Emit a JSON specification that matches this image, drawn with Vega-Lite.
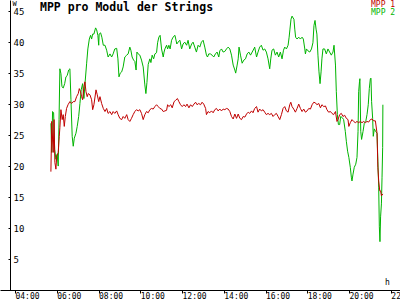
{
"$schema": "https://vega.github.io/schema/vega-lite/v6.json",
"width": 400, "height": 290,
"autosize": "none", "padding": {"left": 0, "top": 0, "right": 0, "bottom": 10},
"background": "white",
"config": {"view": {"stroke": null}},
"title": {"text": "MPP pro Modul der Strings", "anchor": "start", "frame": "group", "font": "DejaVu Sans Mono", "fontSize": 11.5, "fontWeight": "bold", "color": "black", "dx": 40, "offset": -11, "dy": 12, "baseline": "alphabetic"},
"data": {"values": [
{"s":"MPP 1","t":5.72,"v":19.1},{"s":"MPP 1","t":5.76,"v":27.2},{"s":"MPP 1","t":5.83,"v":22.2},{"s":"MPP 1","t":5.87,"v":27.5},{"s":"MPP 1","t":5.91,"v":20.6},{"s":"MPP 1","t":5.96,"v":19.5},{"s":"MPP 1","t":6.00,"v":21.6},{"s":"MPP 1","t":6.07,"v":22.2},{"s":"MPP 1","t":6.12,"v":24.8},{"s":"MPP 1","t":6.15,"v":26.2},{"s":"MPP 1","t":6.20,"v":29.1},{"s":"MPP 1","t":6.26,"v":27.5},{"s":"MPP 1","t":6.31,"v":28.3},{"s":"MPP 1","t":6.36,"v":26.4},{"s":"MPP 1","t":6.41,"v":28.0},{"s":"MPP 1","t":6.47,"v":29.3},{"s":"MPP 1","t":6.54,"v":29.9},{"s":"MPP 1","t":6.63,"v":30.4},{"s":"MPP 1","t":6.71,"v":30.1},{"s":"MPP 1","t":6.79,"v":30.4},{"s":"MPP 1","t":6.87,"v":30.4},{"s":"MPP 1","t":6.95,"v":31.2},{"s":"MPP 1","t":7.03,"v":31.7},{"s":"MPP 1","t":7.08,"v":32.5},{"s":"MPP 1","t":7.14,"v":32.0},{"s":"MPP 1","t":7.19,"v":31.2},{"s":"MPP 1","t":7.24,"v":30.7},{"s":"MPP 1","t":7.30,"v":32.8},{"s":"MPP 1","t":7.35,"v":33.6},{"s":"MPP 1","t":7.40,"v":32.0},{"s":"MPP 1","t":7.46,"v":31.2},{"s":"MPP 1","t":7.51,"v":31.7},{"s":"MPP 1","t":7.59,"v":31.5},{"s":"MPP 1","t":7.67,"v":30.7},{"s":"MPP 1","t":7.72,"v":29.1},{"s":"MPP 1","t":7.78,"v":29.9},{"s":"MPP 1","t":7.88,"v":32.3},{"s":"MPP 1","t":7.94,"v":31.5},{"s":"MPP 1","t":8.01,"v":30.4},{"s":"MPP 1","t":8.07,"v":31.2},{"s":"MPP 1","t":8.15,"v":30.1},{"s":"MPP 1","t":8.23,"v":29.3},
{"s":"MPP 1","t":8.31,"v":28.8},{"s":"MPP 1","t":8.39,"v":29.3},{"s":"MPP 1","t":8.46,"v":28.5},{"s":"MPP 1","t":8.55,"v":28.8},{"s":"MPP 1","t":8.63,"v":28.3},{"s":"MPP 1","t":8.70,"v":28.8},{"s":"MPP 1","t":8.78,"v":28.5},{"s":"MPP 1","t":8.87,"v":28.9},{"s":"MPP 1","t":8.94,"v":28.3},{"s":"MPP 1","t":9.02,"v":27.7},{"s":"MPP 1","t":9.11,"v":27.5},{"s":"MPP 1","t":9.18,"v":28.0},{"s":"MPP 1","t":9.26,"v":27.7},{"s":"MPP 1","t":9.35,"v":28.3},{"s":"MPP 1","t":9.42,"v":27.5},{"s":"MPP 1","t":9.50,"v":27.2},{"s":"MPP 1","t":9.58,"v":27.7},{"s":"MPP 1","t":9.66,"v":28.3},{"s":"MPP 1","t":9.74,"v":28.8},{"s":"MPP 1","t":9.82,"v":29.1},{"s":"MPP 1","t":9.90,"v":28.9},{"s":"MPP 1","t":9.98,"v":29.1},{"s":"MPP 1","t":10.06,"v":28.5},{"s":"MPP 1","t":10.14,"v":27.5},{"s":"MPP 1","t":10.22,"v":28.3},{"s":"MPP 1","t":10.30,"v":28.8},{"s":"MPP 1","t":10.38,"v":28.6},{"s":"MPP 1","t":10.46,"v":29.1},{"s":"MPP 1","t":10.54,"v":29.3},{"s":"MPP 1","t":10.62,"v":29.2},{"s":"MPP 1","t":10.70,"v":29.6},{"s":"MPP 1","t":10.78,"v":29.9},{"s":"MPP 1","t":10.86,"v":29.6},{"s":"MPP 1","t":10.94,"v":29.3},{"s":"MPP 1","t":11.02,"v":29.2},{"s":"MPP 1","t":11.10,"v":28.8},{"s":"MPP 1","t":11.18,"v":28.9},
{"s":"MPP 1","t":11.26,"v":29.0},{"s":"MPP 1","t":11.31,"v":29.9},{"s":"MPP 1","t":11.37,"v":29.6},{"s":"MPP 1","t":11.46,"v":29.9},{"s":"MPP 1","t":11.53,"v":29.4},{"s":"MPP 1","t":11.62,"v":30.4},{"s":"MPP 1","t":11.69,"v":30.6},{"s":"MPP 1","t":11.78,"v":30.9},{"s":"MPP 1","t":11.85,"v":30.4},{"s":"MPP 1","t":11.93,"v":29.9},{"s":"MPP 1","t":12.01,"v":29.6},{"s":"MPP 1","t":12.09,"v":29.9},{"s":"MPP 1","t":12.17,"v":29.6},{"s":"MPP 1","t":12.24,"v":30.0},{"s":"MPP 1","t":12.33,"v":29.4},{"s":"MPP 1","t":12.41,"v":29.9},{"s":"MPP 1","t":12.49,"v":29.6},{"s":"MPP 1","t":12.57,"v":30.0},{"s":"MPP 1","t":12.65,"v":30.3},{"s":"MPP 1","t":12.72,"v":29.9},{"s":"MPP 1","t":12.80,"v":30.1},{"s":"MPP 1","t":12.89,"v":29.9},{"s":"MPP 1","t":12.96,"v":30.3},{"s":"MPP 1","t":13.04,"v":30.0},{"s":"MPP 1","t":13.13,"v":29.3},{"s":"MPP 1","t":13.17,"v":28.3},{"s":"MPP 1","t":13.25,"v":28.8},{"s":"MPP 1","t":13.33,"v":28.6},{"s":"MPP 1","t":13.41,"v":28.9},{"s":"MPP 1","t":13.49,"v":28.6},{"s":"MPP 1","t":13.57,"v":29.1},{"s":"MPP 1","t":13.65,"v":29.3},{"s":"MPP 1","t":13.73,"v":28.9},{"s":"MPP 1","t":13.81,"v":29.2},{"s":"MPP 1","t":13.89,"v":28.9},{"s":"MPP 1","t":13.97,"v":29.2},{"s":"MPP 1","t":14.05,"v":29.1},
{"s":"MPP 1","t":14.13,"v":29.3},{"s":"MPP 1","t":14.21,"v":29.2},{"s":"MPP 1","t":14.29,"v":28.8},{"s":"MPP 1","t":14.37,"v":28.0},{"s":"MPP 1","t":14.45,"v":27.6},{"s":"MPP 1","t":14.53,"v":28.4},{"s":"MPP 1","t":14.61,"v":27.7},{"s":"MPP 1","t":14.69,"v":28.4},{"s":"MPP 1","t":14.77,"v":27.7},{"s":"MPP 1","t":14.85,"v":27.5},{"s":"MPP 1","t":14.93,"v":28.0},{"s":"MPP 1","t":15.01,"v":27.9},{"s":"MPP 1","t":15.09,"v":28.4},{"s":"MPP 1","t":15.17,"v":28.7},{"s":"MPP 1","t":15.24,"v":28.5},{"s":"MPP 1","t":15.33,"v":28.9},{"s":"MPP 1","t":15.40,"v":28.6},{"s":"MPP 1","t":15.48,"v":29.3},{"s":"MPP 1","t":15.57,"v":29.6},{"s":"MPP 1","t":15.64,"v":28.7},{"s":"MPP 1","t":15.72,"v":29.2},{"s":"MPP 1","t":15.80,"v":28.9},{"s":"MPP 1","t":15.88,"v":29.1},{"s":"MPP 1","t":15.96,"v":28.7},{"s":"MPP 1","t":16.04,"v":28.3},{"s":"MPP 1","t":16.12,"v":28.5},{"s":"MPP 1","t":16.20,"v":28.3},{"s":"MPP 1","t":16.28,"v":28.5},{"s":"MPP 1","t":16.36,"v":28.0},{"s":"MPP 1","t":16.44,"v":28.3},{"s":"MPP 1","t":16.52,"v":28.5},{"s":"MPP 1","t":16.60,"v":28.0},{"s":"MPP 1","t":16.68,"v":27.5},{"s":"MPP 1","t":16.76,"v":28.3},{"s":"MPP 1","t":16.84,"v":29.3},{"s":"MPP 1","t":16.92,"v":29.6},
{"s":"MPP 1","t":17.00,"v":28.9},{"s":"MPP 1","t":17.08,"v":28.7},{"s":"MPP 1","t":17.16,"v":29.9},{"s":"MPP 1","t":17.21,"v":30.3},{"s":"MPP 1","t":17.27,"v":29.6},{"s":"MPP 1","t":17.35,"v":29.2},{"s":"MPP 1","t":17.43,"v":28.7},{"s":"MPP 1","t":17.51,"v":29.3},{"s":"MPP 1","t":17.59,"v":30.0},{"s":"MPP 1","t":17.67,"v":29.3},{"s":"MPP 1","t":17.75,"v":28.8},{"s":"MPP 1","t":17.83,"v":29.2},{"s":"MPP 1","t":17.91,"v":28.7},{"s":"MPP 1","t":17.99,"v":28.9},{"s":"MPP 1","t":18.07,"v":29.3},{"s":"MPP 1","t":18.15,"v":29.2},{"s":"MPP 1","t":18.23,"v":29.9},{"s":"MPP 1","t":18.31,"v":30.3},{"s":"MPP 1","t":18.39,"v":30.2},{"s":"MPP 1","t":18.46,"v":29.9},{"s":"MPP 1","t":18.55,"v":30.1},{"s":"MPP 1","t":18.63,"v":29.4},{"s":"MPP 1","t":18.70,"v":29.9},{"s":"MPP 1","t":18.79,"v":29.6},{"s":"MPP 1","t":18.87,"v":29.7},{"s":"MPP 1","t":18.94,"v":29.1},{"s":"MPP 1","t":19.02,"v":28.7},{"s":"MPP 1","t":19.11,"v":28.8},{"s":"MPP 1","t":19.18,"v":28.5},{"s":"MPP 1","t":19.26,"v":28.3},{"s":"MPP 1","t":19.35,"v":28.8},{"s":"MPP 1","t":19.42,"v":27.2},{"s":"MPP 1","t":19.47,"v":27.5},{"s":"MPP 1","t":19.55,"v":28.3},
{"s":"MPP 1","t":19.63,"v":28.5},{"s":"MPP 1","t":19.71,"v":28.0},{"s":"MPP 1","t":19.79,"v":28.2},{"s":"MPP 1","t":19.87,"v":27.7},{"s":"MPP 1","t":19.95,"v":27.5},{"s":"MPP 1","t":19.99,"v":26.4},{"s":"MPP 1","t":20.06,"v":27.0},{"s":"MPP 1","t":20.14,"v":27.5},{"s":"MPP 1","t":20.22,"v":27.2},{"s":"MPP 1","t":20.30,"v":27.0},{"s":"MPP 1","t":20.38,"v":27.2},{"s":"MPP 1","t":20.46,"v":27.0},{"s":"MPP 1","t":20.54,"v":27.2},{"s":"MPP 1","t":20.62,"v":27.0},{"s":"MPP 1","t":20.70,"v":27.2},{"s":"MPP 1","t":20.78,"v":27.0},{"s":"MPP 1","t":20.86,"v":27.2},{"s":"MPP 1","t":20.94,"v":27.1},{"s":"MPP 1","t":21.02,"v":27.5},{"s":"MPP 1","t":21.10,"v":27.6},{"s":"MPP 1","t":21.18,"v":27.3},{"s":"MPP 1","t":21.26,"v":27.3},{"s":"MPP 1","t":21.34,"v":25.3},{"s":"MPP 1","t":21.38,"v":19.8},{"s":"MPP 1","t":21.42,"v":17.6},{"s":"MPP 1","t":21.47,"v":16.0},{"s":"MPP 1","t":21.51,"v":16.0},{"s":"MPP 1","t":21.55,"v":15.2},{"s":"MPP 1","t":21.62,"v":15.5},
{"s":"MPP 2","t":5.72,"v":26.9},{"s":"MPP 2","t":5.76,"v":22.2},{"s":"MPP 2","t":5.80,"v":28.8},{"s":"MPP 2","t":5.85,"v":28.6},{"s":"MPP 2","t":5.90,"v":22.7},{"s":"MPP 2","t":5.96,"v":21.1},{"s":"MPP 2","t":6.02,"v":21.9},{"s":"MPP 2","t":6.07,"v":20.0},{"s":"MPP 2","t":6.11,"v":27.5},{"s":"MPP 2","t":6.15,"v":35.7},{"s":"MPP 2","t":6.20,"v":34.9},{"s":"MPP 2","t":6.25,"v":32.8},{"s":"MPP 2","t":6.31,"v":32.6},{"s":"MPP 2","t":6.38,"v":33.3},{"s":"MPP 2","t":6.44,"v":34.4},{"s":"MPP 2","t":6.50,"v":34.6},{"s":"MPP 2","t":6.57,"v":35.5},{"s":"MPP 2","t":6.63,"v":35.7},{"s":"MPP 2","t":6.68,"v":30.7},{"s":"MPP 2","t":6.74,"v":24.8},{"s":"MPP 2","t":6.79,"v":23.2},{"s":"MPP 2","t":6.84,"v":24.5},{"s":"MPP 2","t":6.92,"v":25.3},{"s":"MPP 2","t":6.98,"v":26.4},{"s":"MPP 2","t":7.05,"v":28.0},{"s":"MPP 2","t":7.11,"v":30.1},{"s":"MPP 2","t":7.17,"v":32.3},{"s":"MPP 2","t":7.24,"v":33.3},{"s":"MPP 2","t":7.30,"v":30.9},{"s":"MPP 2","t":7.36,"v":33.6},{"s":"MPP 2","t":7.43,"v":36.5},{"s":"MPP 2","t":7.49,"v":38.9},{"s":"MPP 2","t":7.56,"v":40.5},{"s":"MPP 2","t":7.62,"v":41.1},{"s":"MPP 2","t":7.67,"v":40.5},{"s":"MPP 2","t":7.72,"v":41.3},{"s":"MPP 2","t":7.78,"v":41.3},{"s":"MPP 2","t":7.86,"v":42.3},{"s":"MPP 2","t":7.91,"v":42.0},{"s":"MPP 2","t":7.97,"v":41.1},{"s":"MPP 2","t":8.01,"v":39.5},{"s":"MPP 2","t":8.03,"v":41.3},{"s":"MPP 2","t":8.10,"v":41.5},{"s":"MPP 2","t":8.16,"v":40.8},{"s":"MPP 2","t":8.23,"v":39.5},
{"s":"MPP 2","t":8.31,"v":39.5},{"s":"MPP 2","t":8.39,"v":38.7},{"s":"MPP 2","t":8.46,"v":37.6},{"s":"MPP 2","t":8.55,"v":38.1},{"s":"MPP 2","t":8.63,"v":37.6},{"s":"MPP 2","t":8.70,"v":38.1},{"s":"MPP 2","t":8.78,"v":38.9},{"s":"MPP 2","t":8.87,"v":39.0},{"s":"MPP 2","t":8.93,"v":37.3},{"s":"MPP 2","t":8.98,"v":34.4},{"s":"MPP 2","t":9.04,"v":35.0},{"s":"MPP 2","t":9.11,"v":35.2},{"s":"MPP 2","t":9.18,"v":36.0},{"s":"MPP 2","t":9.26,"v":37.6},{"s":"MPP 2","t":9.35,"v":37.9},{"s":"MPP 2","t":9.42,"v":38.1},{"s":"MPP 2","t":9.50,"v":39.2},{"s":"MPP 2","t":9.55,"v":38.7},{"s":"MPP 2","t":9.61,"v":37.6},{"s":"MPP 2","t":9.68,"v":37.1},{"s":"MPP 2","t":9.74,"v":36.9},{"s":"MPP 2","t":9.80,"v":35.5},{"s":"MPP 2","t":9.84,"v":38.4},{"s":"MPP 2","t":9.90,"v":38.1},{"s":"MPP 2","t":9.98,"v":37.9},{"s":"MPP 2","t":10.06,"v":37.1},{"s":"MPP 2","t":10.14,"v":36.0},{"s":"MPP 2","t":10.22,"v":33.1},{"s":"MPP 2","t":10.27,"v":31.7},{"s":"MPP 2","t":10.32,"v":33.5},{"s":"MPP 2","t":10.38,"v":36.4},{"s":"MPP 2","t":10.46,"v":37.3},{"s":"MPP 2","t":10.51,"v":36.7},{"s":"MPP 2","t":10.57,"v":37.9},{"s":"MPP 2","t":10.64,"v":37.3},{"s":"MPP 2","t":10.70,"v":38.1},{"s":"MPP 2","t":10.78,"v":38.3},{"s":"MPP 2","t":10.83,"v":39.9},{"s":"MPP 2","t":10.89,"v":40.8},{"s":"MPP 2","t":10.95,"v":41.1},{"s":"MPP 2","t":11.02,"v":38.9},{"s":"MPP 2","t":11.10,"v":37.6},{"s":"MPP 2","t":11.14,"v":38.4},{"s":"MPP 2","t":11.18,"v":38.9},
{"s":"MPP 2","t":11.26,"v":39.5},{"s":"MPP 2","t":11.31,"v":38.9},{"s":"MPP 2","t":11.37,"v":39.5},{"s":"MPP 2","t":11.43,"v":38.9},{"s":"MPP 2","t":11.50,"v":40.3},{"s":"MPP 2","t":11.57,"v":40.8},{"s":"MPP 2","t":11.66,"v":41.1},{"s":"MPP 2","t":11.70,"v":40.5},{"s":"MPP 2","t":11.75,"v":39.7},{"s":"MPP 2","t":11.81,"v":40.0},{"s":"MPP 2","t":11.90,"v":40.3},{"s":"MPP 2","t":11.98,"v":38.9},{"s":"MPP 2","t":12.05,"v":39.7},{"s":"MPP 2","t":12.13,"v":40.0},{"s":"MPP 2","t":12.22,"v":39.5},{"s":"MPP 2","t":12.29,"v":40.3},{"s":"MPP 2","t":12.37,"v":38.9},{"s":"MPP 2","t":12.46,"v":39.7},{"s":"MPP 2","t":12.53,"v":40.0},{"s":"MPP 2","t":12.61,"v":39.2},{"s":"MPP 2","t":12.69,"v":38.4},{"s":"MPP 2","t":12.77,"v":39.5},{"s":"MPP 2","t":12.85,"v":39.2},{"s":"MPP 2","t":12.93,"v":40.0},{"s":"MPP 2","t":13.01,"v":40.3},{"s":"MPP 2","t":13.09,"v":39.2},{"s":"MPP 2","t":13.17,"v":37.9},{"s":"MPP 2","t":13.22,"v":37.6},{"s":"MPP 2","t":13.28,"v":38.1},{"s":"MPP 2","t":13.36,"v":38.1},{"s":"MPP 2","t":13.44,"v":37.9},{"s":"MPP 2","t":13.52,"v":37.6},{"s":"MPP 2","t":13.60,"v":38.1},{"s":"MPP 2","t":13.68,"v":38.4},{"s":"MPP 2","t":13.76,"v":37.6},{"s":"MPP 2","t":13.81,"v":38.6},{"s":"MPP 2","t":13.89,"v":38.9},{"s":"MPP 2","t":13.97,"v":38.4},{"s":"MPP 2","t":14.05,"v":38.5},
{"s":"MPP 2","t":14.13,"v":38.9},{"s":"MPP 2","t":14.21,"v":39.2},{"s":"MPP 2","t":14.29,"v":38.9},{"s":"MPP 2","t":14.37,"v":37.9},{"s":"MPP 2","t":14.45,"v":36.3},{"s":"MPP 2","t":14.53,"v":35.5},{"s":"MPP 2","t":14.57,"v":35.0},{"s":"MPP 2","t":14.64,"v":36.3},{"s":"MPP 2","t":14.69,"v":37.3},{"s":"MPP 2","t":14.73,"v":39.2},{"s":"MPP 2","t":14.80,"v":37.9},{"s":"MPP 2","t":14.88,"v":36.6},{"s":"MPP 2","t":14.96,"v":37.1},{"s":"MPP 2","t":15.04,"v":37.3},{"s":"MPP 2","t":15.12,"v":38.1},{"s":"MPP 2","t":15.20,"v":38.4},{"s":"MPP 2","t":15.28,"v":37.9},{"s":"MPP 2","t":15.36,"v":38.4},{"s":"MPP 2","t":15.44,"v":38.9},{"s":"MPP 2","t":15.48,"v":39.2},{"s":"MPP 2","t":15.57,"v":37.6},{"s":"MPP 2","t":15.64,"v":38.4},{"s":"MPP 2","t":15.72,"v":39.2},{"s":"MPP 2","t":15.80,"v":39.5},{"s":"MPP 2","t":15.88,"v":38.7},{"s":"MPP 2","t":15.96,"v":38.9},{"s":"MPP 2","t":16.04,"v":38.4},{"s":"MPP 2","t":16.12,"v":37.3},{"s":"MPP 2","t":16.20,"v":35.7},{"s":"MPP 2","t":16.25,"v":37.3},{"s":"MPP 2","t":16.31,"v":38.7},{"s":"MPP 2","t":16.39,"v":38.9},{"s":"MPP 2","t":16.47,"v":37.9},{"s":"MPP 2","t":16.55,"v":38.4},{"s":"MPP 2","t":16.63,"v":37.6},{"s":"MPP 2","t":16.71,"v":38.4},{"s":"MPP 2","t":16.79,"v":37.3},{"s":"MPP 2","t":16.86,"v":38.7},{"s":"MPP 2","t":16.92,"v":39.2},
{"s":"MPP 2","t":17.00,"v":38.9},{"s":"MPP 2","t":17.08,"v":39.5},{"s":"MPP 2","t":17.13,"v":40.8},{"s":"MPP 2","t":17.17,"v":42.1},{"s":"MPP 2","t":17.22,"v":43.7},{"s":"MPP 2","t":17.27,"v":44.2},{"s":"MPP 2","t":17.32,"v":43.9},{"s":"MPP 2","t":17.36,"v":43.7},{"s":"MPP 2","t":17.40,"v":42.1},{"s":"MPP 2","t":17.44,"v":40.8},{"s":"MPP 2","t":17.51,"v":40.5},{"s":"MPP 2","t":17.59,"v":40.8},{"s":"MPP 2","t":17.67,"v":40.5},{"s":"MPP 2","t":17.75,"v":40.8},{"s":"MPP 2","t":17.81,"v":40.5},{"s":"MPP 2","t":17.88,"v":38.9},{"s":"MPP 2","t":17.91,"v":38.1},{"s":"MPP 2","t":17.96,"v":38.9},{"s":"MPP 2","t":18.03,"v":38.6},{"s":"MPP 2","t":18.12,"v":38.4},{"s":"MPP 2","t":18.20,"v":38.9},{"s":"MPP 2","t":18.27,"v":39.9},{"s":"MPP 2","t":18.32,"v":42.7},{"s":"MPP 2","t":18.37,"v":43.5},{"s":"MPP 2","t":18.42,"v":42.1},{"s":"MPP 2","t":18.46,"v":41.3},{"s":"MPP 2","t":18.51,"v":37.9},{"s":"MPP 2","t":18.56,"v":35.2},{"s":"MPP 2","t":18.61,"v":33.3},{"s":"MPP 2","t":18.66,"v":35.2},{"s":"MPP 2","t":18.70,"v":37.3},{"s":"MPP 2","t":18.75,"v":38.9},{"s":"MPP 2","t":18.83,"v":38.9},{"s":"MPP 2","t":18.91,"v":38.1},{"s":"MPP 2","t":18.99,"v":38.9},{"s":"MPP 2","t":19.07,"v":38.4},{"s":"MPP 2","t":19.15,"v":37.9},{"s":"MPP 2","t":19.23,"v":38.4},{"s":"MPP 2","t":19.28,"v":39.5},{"s":"MPP 2","t":19.35,"v":36.3},{"s":"MPP 2","t":19.39,"v":32.0},{"s":"MPP 2","t":19.44,"v":28.3},{"s":"MPP 2","t":19.49,"v":26.7},{"s":"MPP 2","t":19.55,"v":26.7},
{"s":"MPP 2","t":19.60,"v":28.0},{"s":"MPP 2","t":19.68,"v":27.8},{"s":"MPP 2","t":19.74,"v":27.5},{"s":"MPP 2","t":19.82,"v":25.6},{"s":"MPP 2","t":19.87,"v":24.0},{"s":"MPP 2","t":19.93,"v":22.4},{"s":"MPP 2","t":19.99,"v":21.4},{"s":"MPP 2","t":20.06,"v":19.8},{"s":"MPP 2","t":20.11,"v":18.2},{"s":"MPP 2","t":20.14,"v":17.6},{"s":"MPP 2","t":20.19,"v":18.7},{"s":"MPP 2","t":20.25,"v":19.8},{"s":"MPP 2","t":20.32,"v":20.3},{"s":"MPP 2","t":20.38,"v":21.4},{"s":"MPP 2","t":20.43,"v":25.6},{"s":"MPP 2","t":20.46,"v":32.0},{"s":"MPP 2","t":20.50,"v":33.6},{"s":"MPP 2","t":20.52,"v":34.1},{"s":"MPP 2","t":20.56,"v":25.6},{"s":"MPP 2","t":20.60,"v":24.3},{"s":"MPP 2","t":20.67,"v":25.6},{"s":"MPP 2","t":20.73,"v":26.9},{"s":"MPP 2","t":20.80,"v":27.2},{"s":"MPP 2","t":20.86,"v":28.3},{"s":"MPP 2","t":20.92,"v":29.9},{"s":"MPP 2","t":20.97,"v":32.5},{"s":"MPP 2","t":21.02,"v":34.1},{"s":"MPP 2","t":21.05,"v":34.2},{"s":"MPP 2","t":21.08,"v":30.4},{"s":"MPP 2","t":21.13,"v":27.7},{"s":"MPP 2","t":21.16,"v":24.8},{"s":"MPP 2","t":21.21,"v":26.0},{"s":"MPP 2","t":21.27,"v":25.6},{"s":"MPP 2","t":21.34,"v":25.3},{"s":"MPP 2","t":21.38,"v":20.8},{"s":"MPP 2","t":21.42,"v":16.6},{"s":"MPP 2","t":21.45,"v":10.2},{"s":"MPP 2","t":21.48,"v":7.8},{"s":"MPP 2","t":21.51,"v":11.8},{"s":"MPP 2","t":21.55,"v":13.9},{"s":"MPP 2","t":21.58,"v":18.2},{"s":"MPP 2","t":21.61,"v":23.0},{"s":"MPP 2","t":21.62,"v":29.9}
]},
"encoding": {
  "x": {"field": "t", "type": "quantitative",
    "scale": {"domain": [3.282, 22.44], "nice": false, "zero": false},
    "axis": {"values": [4,6,8,10,12,14,16,18,20,22],
      "labelExpr": "(datum.value < 10 ? '0' : '') + datum.value + ':00'",
      "title": "h", "titleX": 387, "titleY": -6, "titleFont": "DejaVu Sans Mono", "titleFontSize": 8, "titleFontWeight": "normal", "titleBaseline": "alphabetic", "titleAlign": "center", "titleColor": "black",
      "labelFont": "DejaVu Sans Mono", "labelFontSize": 8, "labelAlign": "left", "labelDx": -4, "labelBaseline": "top", "labelPadding": -1, "labelColor": "black",
      "labelOverlap": false, "labelBound": false, "labelFlush": false,
      "tickSize": 3, "tickColor": "black", "domainColor": "black", "grid": false}},
  "y": {"field": "v", "type": "quantitative",
    "scale": {"domain": [0, 46.8], "nice": false, "zero": false},
    "axis": {"values": [5,10,15,20,25,30,35,40,45], "offset": -10,
      "title": "W", "titleAngle": 0, "titleX": 2, "titleY": 5, "titleAlign": "left", "titleBaseline": "alphabetic", "titleFont": "DejaVu Sans Mono", "titleFontSize": 7, "titleFontWeight": "normal", "titleColor": "black",
      "labelFont": "DejaVu Sans Mono", "labelFontSize": 9, "labelAlign": "left", "labelBaseline": "middle", "labelPadding": -5, "labelColor": "black",
      "labelOverlap": false, "labelBound": false, "labelFlush": false,
      "tickSize": 2, "tickColor": "black", "domainColor": "black", "grid": false}},
  "color": {"field": "s", "type": "nominal",
    "scale": {"domain": ["MPP 1", "MPP 2"], "range": ["#c00000", "#00b400"]},
    "legend": {"orient": "none", "legendX": 363, "legendY": 1, "title": null, "symbolSize": 0, "symbolStrokeWidth": 0, "symbolOpacity": 0, "labelOffset": 0, "labelFont": "DejaVu Sans Mono", "labelFontSize": 8, "rowPadding": 0, "padding": 0,
      "encode": {"labels": {"update": {"fill": {"scale": "color", "field": "value"}}}}}}
},
"layer": [
  {"transform": [{"filter": "datum.s === 'MPP 2'"}], "mark": {"type": "line", "strokeWidth": 1}},
  {"transform": [{"filter": "datum.s === 'MPP 1'"}], "mark": {"type": "line", "strokeWidth": 1}}
]
}
